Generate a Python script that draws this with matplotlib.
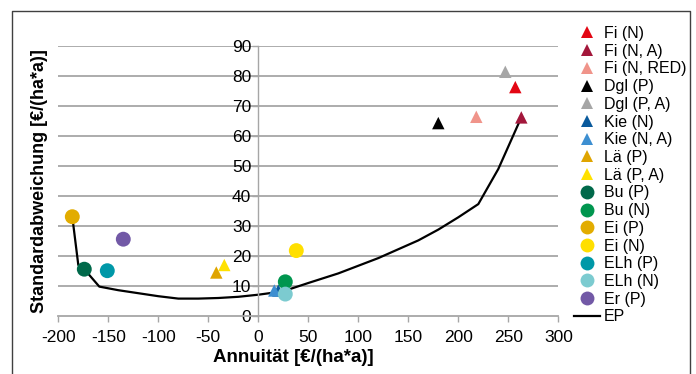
import matplotlib
matplotlib.use("Agg")
import matplotlib.pyplot as plt
from matplotlib.lines import Line2D

plt.rcParams['font.family'] = ['Liberation Sans', 'DejaVu Sans']
plt.rcParams['axes.unicode_minus'] = False

labels = ["Fi (N)", "Fi (N, A)", "Fi (N, RED)", "Dgl (P)", "Dgl (P, A)",
          "Kie (N)", "Kie (N, A)", "Lä (P)", "Lä (P, A)",
          "Bu (P)", "Bu (N)", "Ei (P)", "Ei (N)", "ELh (P)", "ELh (N)", "Er (P)"]
annuity = [257, 263, 218, 180, 247, 20, 16, -42, -34,
           -174, 27, -186, 38, -151, 27, -135]
stddev = [76.3, 66.2, 66.4, 64.3, 81.4, 8.5, 8.5, 14.5, 17.0,
          15.6, 11.4, 33.1, 21.8, 15.1, 7.3, 25.6]
markers = ["^"] * 9 + ["o"] * 7
colors = ["#e30613", "#a3173b", "#f0948a", "#000000", "#a6a6a6",
          "#0a5a9c", "#3d8fd1", "#dfa400", "#ffe100",
          "#00694a", "#00964f", "#e2ac00", "#ffdf00", "#0098a8", "#7ccbd0", "#7259a6"]

ep_x = [-186, -180, -174, -159, -140, -120, -100, -80, -60, -40, -20, 0, 20, 30,
        50, 80, 120, 160, 180, 200, 220, 240, 263]
ep_y = [33.1, 17.0, 15.6, 9.8, 8.6, 7.6, 6.6, 5.8, 5.8, 6.0, 6.4, 7.1, 8.0, 8.8,
        11.0, 14.2, 19.3, 25.2, 28.8, 32.9, 37.3, 49.0, 66.2]

xticks = [-200, -150, -100, -50, 0, 50, 100, 150, 200, 250, 300]
yticks = [0, 10, 20, 30, 40, 50, 60, 70, 80, 90]

fig = plt.figure(figsize=(6.96, 3.74), dpi=100)
ax = fig.add_axes([58.3 / 696, 1 - 316 / 374, 500 / 696, 270 / 374])
ax.set_xlim(-200, 300)
ax.set_ylim(0, 90)

for yv in yticks[1:]:
    ax.axhline(yv, color="#a6a6a6", lw=1.3, zorder=0)

ax.plot(ep_x, ep_y, color="black", lw=1.6, zorder=2)
handles = []
for xv, yv, m, c, lab in zip(annuity, stddev, markers, colors, labels):
    s = 80 if m == "^" else 115
    ax.scatter([xv], [yv], marker=m, s=s, color=c, edgecolors="none", zorder=3)
    handles.append(Line2D([], [], marker=m, linestyle="none", color=c,
                          markersize=8 if m == "^" else 10, markeredgewidth=0, label=lab))
handles.append(Line2D([], [], color="black", lw=1.6, label="EP"))

for side in ["top", "right"]:
    ax.spines[side].set_visible(False)
ax.spines["left"].set_position(("data", 0))
ax.spines["left"].set_color("#a6a6a6")
ax.spines["bottom"].set_color("#a6a6a6")
ax.spines["left"].set_linewidth(1.0)
ax.spines["bottom"].set_linewidth(1.3)

ax.set_xticks(xticks)
ax.set_yticks(yticks)
ax.tick_params(axis="both", colors="#a6a6a6", labelcolor="black", labelsize=12.5,
               length=4, width=1.0)
ax.tick_params(axis="x", direction="out", pad=6)
ax.tick_params(axis="y", direction="out", pad=1)

fig.text(293 / 696, 1 - 358 / 374, "Annuität [€/(ha*a)]", ha="center", va="center",
         fontsize=13.5, fontweight="bold")
fig.text(40 / 696, 1 - 181 / 374, "Standardabweichung [€/(ha*a)]", ha="center", va="center",
         rotation=90, fontsize=13, fontweight="bold")

leg = fig.legend(handles=handles, loc="upper left", bbox_to_anchor=(574 / 696, 1 - 26 / 374),
                 frameon=False, fontsize=11.5, handlelength=1.6, handletextpad=0.25,
                 labelspacing=0.17, borderpad=0, borderaxespad=0)

# outer frame (no bottom edge)
frame = Line2D([12 / 696, 12 / 696, 689.5 / 696, 689.5 / 696],
               [0, 1 - 10.5 / 374, 1 - 10.5 / 374, 0],
               transform=fig.transFigure, color="#404040", lw=1.0)
fig.add_artist(frame)

fig.savefig("out.png", dpi=100)
